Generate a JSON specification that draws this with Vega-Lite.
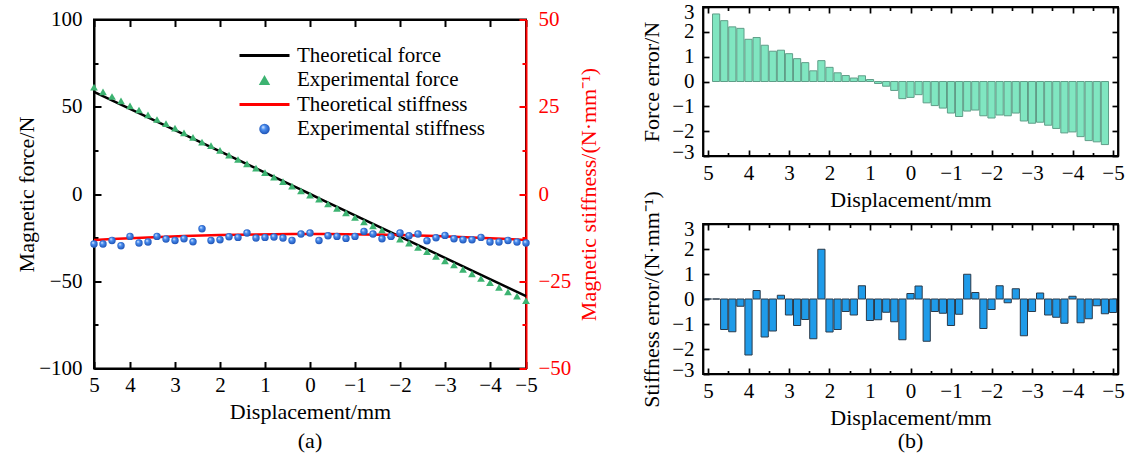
{
  "$schema": "https://vega.github.io/schema/vega-lite/v6.json",
  "padding": {"left": 14, "top": 0, "right": 0, "bottom": 0},
  "config": {
    "font": "Liberation Serif",
    "view": {"stroke": "black", "strokeWidth": 1.8},
    "axis": {"labelFont": "Liberation Serif", "titleFont": "Liberation Serif", "labelFontSize": 21, "titleFontSize": 22, "titleFontWeight": "normal", "labelColor": "black", "titleColor": "black", "domainColor": "black", "tickColor": "black", "grid": false, "labelFlush": false, "labelOverlap": false, "domainWidth": 2, "tickWidth": 2},
    "title": {"font": "Liberation Serif", "fontSize": 22, "fontWeight": "normal", "color": "black"}
  },
  "datasets": {
    "force": [
      {"x":4.8,"ft":58.56,"fe":61.28,"err":2.72},{"x":4.6,"ft":56.12,"fe":58.57,"err":2.45},{"x":4.4,"ft":53.68,"fe":55.88,"err":2.2},{"x":4.2,"ft":51.24,"fe":53.38,"err":2.14},{"x":4.0,"ft":48.8,"fe":50.5,"err":1.7},{"x":3.8,"ft":46.36,"fe":48.13,"err":1.77},{"x":3.6,"ft":43.92,"fe":45.38,"err":1.46},{"x":3.4,"ft":41.48,"fe":42.7,"err":1.22},{"x":3.2,"ft":39.04,"fe":40.3,"err":1.26},{"x":3.0,"ft":36.6,"fe":37.72,"err":1.12},{"x":2.8,"ft":34.16,"fe":35.08,"err":0.92},{"x":2.6,"ft":31.72,"fe":32.48,"err":0.76},{"x":2.4,"ft":29.28,"fe":29.71,"err":0.43},{"x":2.2,"ft":26.84,"fe":27.68,"err":0.84},{"x":2.0,"ft":24.4,"fe":24.97,"err":0.57},{"x":1.8,"ft":21.96,"fe":22.31,"err":0.35},{"x":1.6,"ft":19.52,"fe":19.76,"err":0.24},{"x":1.4,"ft":17.08,"fe":17.22,"err":0.14},{"x":1.2,"ft":14.64,"fe":14.87,"err":0.23},{"x":1.0,"ft":12.2,"fe":12.28,"err":0.08},{"x":0.8,"ft":9.76,"fe":9.68,"err":-0.08},{"x":0.6,"ft":7.32,"fe":7.13,"err":-0.19},{"x":0.4,"ft":4.88,"fe":4.52,"err":-0.36},{"x":0.2,"ft":2.44,"fe":1.75,"err":-0.69},{"x":0,"ft":0,"fe":-0.64,"err":-0.64},{"x":-0.2,"ft":-2.44,"fe":-2.97,"err":-0.53},{"x":-0.4,"ft":-4.88,"fe":-5.74,"err":-0.86},{"x":-0.6,"ft":-7.32,"fe":-8.29,"err":-0.97},{"x":-0.8,"ft":-9.76,"fe":-10.83,"err":-1.07},{"x":-1.0,"ft":-12.2,"fe":-13.47,"err":-1.27},{"x":-1.2,"ft":-14.64,"fe":-16.05,"err":-1.41},{"x":-1.4,"ft":-17.08,"fe":-18.27,"err":-1.19},{"x":-1.6,"ft":-19.52,"fe":-20.67,"err":-1.15},{"x":-1.8,"ft":-21.96,"fe":-23.34,"err":-1.38},{"x":-2.0,"ft":-24.4,"fe":-25.87,"err":-1.47},{"x":-2.2,"ft":-26.84,"fe":-28.19,"err":-1.35},{"x":-2.4,"ft":-29.28,"fe":-30.66,"err":-1.38},{"x":-2.6,"ft":-31.72,"fe":-32.99,"err":-1.27},{"x":-2.8,"ft":-34.16,"fe":-35.75,"err":-1.59},{"x":-3.0,"ft":-36.6,"fe":-38.28,"err":-1.68},{"x":-3.2,"ft":-39.04,"fe":-40.68,"err":-1.64},{"x":-3.4,"ft":-41.48,"fe":-43.24,"err":-1.76},{"x":-3.6,"ft":-43.92,"fe":-45.81,"err":-1.89},{"x":-3.8,"ft":-46.36,"fe":-48.43,"err":-2.07},{"x":-4.0,"ft":-48.8,"fe":-50.83,"err":-2.03},{"x":-4.2,"ft":-51.24,"fe":-53.46,"err":-2.22},{"x":-4.4,"ft":-53.68,"fe":-56.06,"err":-2.38},{"x":-4.6,"ft":-56.12,"fe":-58.55,"err":-2.43},{"x":-4.8,"ft":-58.56,"fe":-61.1,"err":-2.54}
    ],
    "stiff": [
      {"x":4.8,"ke":-14.33},{"x":4.6,"ke":-14.33},{"x":4.4,"ke":-13.3},{"x":4.2,"ke":-14.81},{"x":4.0,"ke":-12.15},{"x":3.8,"ke":-14.04},{"x":3.6,"ke":-13.75},{"x":3.4,"ke":-12.15},{"x":3.2,"ke":-12.89},{"x":3.0,"ke":-13.3},{"x":2.8,"ke":-12.81},{"x":2.6,"ke":-13.67},{"x":2.4,"ke":-9.94},{"x":2.2,"ke":-13.3},{"x":2.0,"ke":-13.09},{"x":1.8,"ke":-12.23},{"x":1.6,"ke":-12.44},{"x":1.4,"ke":-11.17},{"x":1.2,"ke":-12.61},{"x":1.0,"ke":-12.44},{"x":0.8,"ke":-12.32},{"x":0.6,"ke":-12.61},{"x":0.4,"ke":-13.3},{"x":0.2,"ke":-11.46},{"x":0,"ke":-11.17},{"x":-0.2,"ke":-13.3},{"x":-0.4,"ke":-11.95},{"x":-0.6,"ke":-12.15},{"x":-0.8,"ke":-12.72},{"x":-1.0,"ke":-12.15},{"x":-1.2,"ke":-10.72},{"x":-1.4,"ke":-11.46},{"x":-1.6,"ke":-12.81},{"x":-1.8,"ke":-12.15},{"x":-2.0,"ke":-11.17},{"x":-2.2,"ke":-11.95},{"x":-2.4,"ke":-11.46},{"x":-2.6,"ke":-13.38},{"x":-2.8,"ke":-12.52},{"x":-3.0,"ke":-11.86},{"x":-3.2,"ke":-12.81},{"x":-3.4,"ke":-13.09},{"x":-3.6,"ke":-13.09},{"x":-3.8,"ke":-12.44},{"x":-4.0,"ke":-13.75},{"x":-4.2,"ke":-13.75},{"x":-4.4,"ke":-13.3},{"x":-4.6,"ke":-13.75},{"x":-4.8,"ke":-14.04}
    ],
    "kth": [
      {"x":4.8,"kt":-13.19},{"x":4.4,"kt":-12.91},{"x":4.0,"kt":-12.66},{"x":3.6,"kt":-12.43},{"x":3.2,"kt":-12.23},{"x":2.8,"kt":-12.05},{"x":2.4,"kt":-11.89},{"x":2.0,"kt":-11.76},{"x":1.6,"kt":-11.65},{"x":1.2,"kt":-11.57},{"x":0.8,"kt":-11.51},{"x":0.4,"kt":-11.47},{"x":0,"kt":-11.46},{"x":-0.4,"kt":-11.47},{"x":-0.8,"kt":-11.51},{"x":-1.2,"kt":-11.57},{"x":-1.6,"kt":-11.65},{"x":-2.0,"kt":-11.76},{"x":-2.4,"kt":-11.89},{"x":-2.8,"kt":-12.05},{"x":-3.2,"kt":-12.23},{"x":-3.6,"kt":-12.43},{"x":-4.0,"kt":-12.66},{"x":-4.4,"kt":-12.91},{"x":-4.8,"kt":-13.19}
    ],
    "kerr": [
      {"x":5.0,"e":0},{"x":4.8,"e":0},{"x":4.6,"e":-1.22},{"x":4.4,"e":-1.31},{"x":4.2,"e":-0.29},{"x":4.0,"e":-2.24},{"x":3.8,"e":0.34},{"x":3.6,"e":-1.52},{"x":3.4,"e":-1.28},{"x":3.2,"e":0.15},{"x":3.0,"e":-0.64},{"x":2.8,"e":-1.06},{"x":2.6,"e":-0.82},{"x":2.4,"e":-1.59},{"x":2.2,"e":1.99},{"x":2.0,"e":-1.32},{"x":1.8,"e":-1.22},{"x":1.6,"e":-0.5},{"x":1.4,"e":-0.64},{"x":1.2,"e":0.53},{"x":1.0,"e":-0.86},{"x":0.8,"e":-0.83},{"x":0.6,"e":-0.53},{"x":0.4,"e":-0.91},{"x":0.2,"e":-1.63},{"x":0,"e":0.22},{"x":-0.2,"e":0.52},{"x":-0.4,"e":-1.69},{"x":-0.6,"e":-0.5},{"x":-0.8,"e":-0.57},{"x":-1.0,"e":-1.06},{"x":-1.2,"e":-0.61},{"x":-1.4,"e":0.99},{"x":-1.6,"e":0.26},{"x":-1.8,"e":-1.18},{"x":-2.0,"e":-0.42},{"x":-2.2,"e":0.53},{"x":-2.4,"e":-0.15},{"x":-2.6,"e":0.41},{"x":-2.8,"e":-1.47},{"x":-3.0,"e":-0.5},{"x":-3.2,"e":0.24},{"x":-3.4,"e":-0.64},{"x":-3.6,"e":-0.73},{"x":-3.8,"e":-0.97},{"x":-4.0,"e":0.11},{"x":-4.2,"e":-0.95},{"x":-4.4,"e":-0.79},{"x":-4.6,"e":-0.27},{"x":-4.8,"e":-0.59},{"x":-5.0,"e":-0.54}
    ]
  },
  "spacing": 38,
  "hconcat": [
    {
      "spacing": 11.5,
      "bounds": "flush",
      "vconcat": [
        {"width": 432, "height": 1, "view": {"stroke": null}, "data": {"values": []}, "mark": {"type": "point", "opacity": 0}, "encoding": {}},
        {
          "width": 432,
          "height": 349,
          "view": {"stroke": "black", "strokeWidth": 2},
          "title": {"text": "(a)", "orient": "bottom", "offset": 8},
          "layer": [
            {
              "layer": [
                {
                  "data": {"name": "force"},
                  "mark": {"type": "line", "strokeWidth": 2.5},
                  "encoding": {
                    "x": {"field": "x", "type": "quantitative", "scale": {"domain": [-4.8, 4.8], "reverse": true, "nice": false, "zero": false},
                      "axis": {"orient": "bottom", "values": [4.8,4.5,4,3.5,3,2.5,2,1.5,1,0.5,0,-0.5,-1,-1.5,-2,-2.5,-3,-3.5,-4,-4.5,-4.8],
                        "labelExpr": "datum.value == 4.8 ? '5' : datum.value == -4.8 ? '−5' : (abs(datum.value % 1) == 0.5 ? '' : format(datum.value, 'd'))",
                        "tickSize": {"condition": {"test": "abs(datum.value % 1) == 0.5", "value": -4}, "value": -7},
                        "labelPadding": 13, "title": "Displacement/mm", "titlePadding": 6}},
                    "y": {"field": "ft", "type": "quantitative", "scale": {"domain": [-100, 100], "nice": false, "zero": false},
                      "axis": {"orient": "left", "values": [-100,-75,-50,-25,0,25,50,75,100],
                        "labelExpr": "datum.value % 50 == 0 ? format(datum.value, 'd') : ''",
                        "tickSize": {"condition": {"test": "datum.value % 50 != 0", "value": -4}, "value": -7},
                        "labelPadding": 19, "title": "Magnetic force/N", "titlePadding": 0}},
                    "color": {"datum": "Theoretical force", "type": "nominal",
                      "scale": {"domain": ["Theoretical force", "Experimental force", "Theoretical stiffness", "Experimental stiffness"], "range": ["#000000", "#3cb371", "#ff0000", "#2f73d8"]},
                      "legend": {"orient": "none", "legendX": 160, "legendY": 38, "title": null, "symbolSize": 100, "labelFontSize": 21, "labelFont": "Liberation Serif", "labelColor": "black", "labelOffset": 22, "labelLimit": 0, "rowPadding": 2.5, "padding": 0,
                        "encode": {"symbols": {"update": {
                          "shape": {"signal": "datum.value == 'Experimental force' ? 'triangle-up' : datum.value == 'Experimental stiffness' ? 'circle' : 'stroke'"},
                          "size": {"signal": "datum.value == 'Experimental force' ? 130 : datum.value == 'Experimental stiffness' ? 110 : 2500"},
                          "fill": [
                            {"test": "datum.value == 'Experimental stiffness'", "value": {"gradient": "radial", "x1": 0.35, "y1": 0.3, "r1": 0, "x2": 0.5, "y2": 0.5, "r2": 0.6, "stops": [{"offset": 0, "color": "#e6f1ff"}, {"offset": 0.35, "color": "#4a8ef0"}, {"offset": 1, "color": "#1546a8"}]}},
                            {"signal": "datum.value == 'Experimental force' ? '#3cb371' : 'transparent'"}
                          ],
                          "stroke": {"signal": "datum.value == 'Theoretical force' ? '#000000' : datum.value == 'Theoretical stiffness' ? '#ff0000' : 'transparent'"},
                          "strokeWidth": {"signal": "datum.value == 'Theoretical force' || datum.value == 'Theoretical stiffness' ? 3 : 0"},
                          "opacity": {"value": 1}
                        }}}}
                    }
                  }
                },
                {
                  "data": {"name": "force"},
                  "mark": {"type": "point", "shape": "triangle-up", "filled": true, "color": "#3cb371", "size": 60, "opacity": 1, "strokeWidth": 0},
                  "encoding": {
                    "x": {"field": "x", "type": "quantitative"},
                    "y": {"field": "fe", "type": "quantitative"}
                  }
                }
              ]
            },
            {
              "layer": [
                {
                  "data": {"name": "kth"},
                  "mark": {"type": "line", "color": "#ff0000", "strokeWidth": 2.5, "interpolate": "monotone"},
                  "encoding": {
                    "x": {"field": "x", "type": "quantitative",
                      "axis": {"orient": "top", "values": [4.8,4.5,4,3.5,3,2.5,2,1.5,1,0.5,0,-0.5,-1,-1.5,-2,-2.5,-3,-3.5,-4,-4.5,-4.8], "labelExpr": "''", "labelFontSize": 1, "labelPadding": 0, "title": null,
                        "tickSize": {"condition": {"test": "abs(datum.value % 1) == 0.5", "value": -4}, "value": -7}}},
                    "y": {"field": "kt", "type": "quantitative", "scale": {"domain": [-50, 50], "nice": false, "zero": false},
                      "axis": {"orient": "right", "values": [-50,-37.5,-25,-12.5,0,12.5,25,37.5,50],
                        "labelExpr": "datum.value % 25 == 0 ? format(datum.value, 'd') : ''",
                        "tickSize": {"condition": {"test": "datum.value % 25 != 0", "value": -4}, "value": -7},
                        "labelPadding": 19, "title": "Magnetic stiffness/(N·mm⁻¹)", "titleAngle": 270, "titleBaseline": "top", "titlePadding": 8,
                        "domainColor": "#ff0000", "tickColor": "#ff0000", "labelColor": "#ff0000", "titleColor": "#ff0000"}}
                  }
                },
                {
                  "data": {"name": "stiff"},
                  "mark": {"type": "point", "shape": "circle", "filled": true, "size": 55, "opacity": 1, "strokeWidth": 0,
                    "fill": {"gradient": "radial", "x1": 0.35, "y1": 0.3, "r1": 0, "x2": 0.5, "y2": 0.5, "r2": 0.6,
                      "stops": [{"offset": 0, "color": "#e6f1ff"}, {"offset": 0.35, "color": "#4a8ef0"}, {"offset": 1, "color": "#1546a8"}]}},
                  "encoding": {
                    "x": {"field": "x", "type": "quantitative"},
                    "y": {"field": "ke", "type": "quantitative"}
                  }
                }
              ]
            }
          ],
          "resolve": {"scale": {"y": "independent"}, "axis": {"x": "independent", "y": "independent"}}
        }
      ]
    },
    {
      "spacing": 68,
      "bounds": "flush",
      "vconcat": [
        {
          "width": 415,
          "height": 149,
          "data": {"name": "force"},
          "layer": [
            {
              "mark": {"type": "bar", "orient": "vertical", "size": 7.2, "fill": "#80e6c1", "stroke": "#5f9e88", "strokeWidth": 1, "clip": true},
              "encoding": {
                "x": {"field": "x", "type": "quantitative", "scale": {"domain": [-5, 5], "reverse": true, "nice": false, "zero": false},
                  "axis": {"orient": "bottom", "values": [5,4.5,4,3.5,3,2.5,2,1.5,1,0.5,0,-0.5,-1,-1.5,-2,-2.5,-3,-3.5,-4,-4.5,-5],
                    "labelExpr": "abs(datum.value % 1) == 0.5 ? '' : format(datum.value, 'd')",
                    "tickSize": {"condition": {"test": "abs(datum.value % 1) == 0.5", "value": -3.5}, "value": -6},
                    "labelPadding": 12, "title": "Displacement/mm", "titlePadding": 4, "domainWidth": 1.7, "tickWidth": 1.7}},
                "y": {"field": "err", "type": "quantitative", "scale": {"domain": [-3, 3], "nice": false},
                  "axis": {"orient": "left", "values": [-3,-2,-1,0,1,2,3], "tickSize": -6, "labelPadding": 15,
                    "labelExpr": "format(datum.value, 'd')", "labelFlush": true, "labelFlushOffset": 6,
                    "title": "Force error/N", "titlePadding": 8, "domainWidth": 1.7, "tickWidth": 1.7}}
              }
            },
            {
              "mark": {"type": "bar", "orient": "vertical", "size": 7.2, "opacity": 0, "clip": true},
              "encoding": {
                "x": {"field": "x", "type": "quantitative", "scale": {"domain": [-5, 5], "reverse": true, "nice": false, "zero": false},
                  "axis": {"orient": "top", "values": [5,4.5,4,3.5,3,2.5,2,1.5,1,0.5,0,-0.5,-1,-1.5,-2,-2.5,-3,-3.5,-4,-4.5,-5], "labelExpr": "''", "labelFontSize": 1, "labelPadding": 0, "title": null,
                    "tickSize": {"condition": {"test": "abs(datum.value % 1) == 0.5", "value": -3.5}, "value": -6}, "domainWidth": 1.7, "tickWidth": 1.7}},
                "y": {"field": "err", "type": "quantitative", "scale": {"domain": [-3, 3], "nice": false},
                  "axis": {"orient": "right", "values": [-3,-2,-1,0,1,2,3], "labelExpr": "''", "labelFontSize": 1, "labelPadding": 0, "title": null, "tickSize": -6, "domainWidth": 1.7, "tickWidth": 1.7}}
              }
            }
          ],
          "resolve": {"scale": {"x": "independent", "y": "independent"}}
        },
        {
          "width": 415,
          "height": 150,
          "data": {"name": "kerr"},
          "title": {"text": "(b)", "orient": "bottom", "offset": 2},
          "layer": [
            {
              "mark": {"type": "bar", "orient": "vertical", "size": 7.2, "fill": "#1f9be9", "stroke": "#2a3a4a", "strokeWidth": 1, "clip": true},
              "encoding": {
                "x": {"field": "x", "type": "quantitative", "scale": {"domain": [-5, 5], "reverse": true, "nice": false, "zero": false},
                  "axis": {"orient": "bottom", "values": [5,4.5,4,3.5,3,2.5,2,1.5,1,0.5,0,-0.5,-1,-1.5,-2,-2.5,-3,-3.5,-4,-4.5,-5],
                    "labelExpr": "abs(datum.value % 1) == 0.5 ? '' : format(datum.value, 'd')",
                    "tickSize": {"condition": {"test": "abs(datum.value % 1) == 0.5", "value": -3.5}, "value": -6},
                    "labelPadding": 12, "title": "Displacement/mm", "titlePadding": 4, "domainWidth": 1.7, "tickWidth": 1.7}},
                "y": {"field": "e", "type": "quantitative", "scale": {"domain": [-3, 3], "nice": false},
                  "axis": {"orient": "left", "values": [-3,-2,-1,0,1,2,3], "tickSize": -6, "labelPadding": 15,
                    "labelExpr": "format(datum.value, 'd')", "labelFlush": true, "labelFlushOffset": 6,
                    "title": "Stiffness error/(N·mm⁻¹)", "titlePadding": 8, "domainWidth": 1.7, "tickWidth": 1.7}}
              }
            },
            {
              "mark": {"type": "bar", "orient": "vertical", "size": 7.2, "opacity": 0, "clip": true},
              "encoding": {
                "x": {"field": "x", "type": "quantitative", "scale": {"domain": [-5, 5], "reverse": true, "nice": false, "zero": false},
                  "axis": {"orient": "top", "values": [5,4.5,4,3.5,3,2.5,2,1.5,1,0.5,0,-0.5,-1,-1.5,-2,-2.5,-3,-3.5,-4,-4.5,-5], "labelExpr": "''", "labelFontSize": 1, "labelPadding": 0, "title": null,
                    "tickSize": {"condition": {"test": "abs(datum.value % 1) == 0.5", "value": -3.5}, "value": -6}, "domainWidth": 1.7, "tickWidth": 1.7}},
                "y": {"field": "e", "type": "quantitative", "scale": {"domain": [-3, 3], "nice": false},
                  "axis": {"orient": "right", "values": [-3,-2,-1,0,1,2,3], "labelExpr": "''", "labelFontSize": 1, "labelPadding": 0, "title": null, "tickSize": -6, "domainWidth": 1.7, "tickWidth": 1.7}}
              }
            }
          ],
          "resolve": {"scale": {"x": "independent", "y": "independent"}}
        }
      ]
    }
  ]
}
